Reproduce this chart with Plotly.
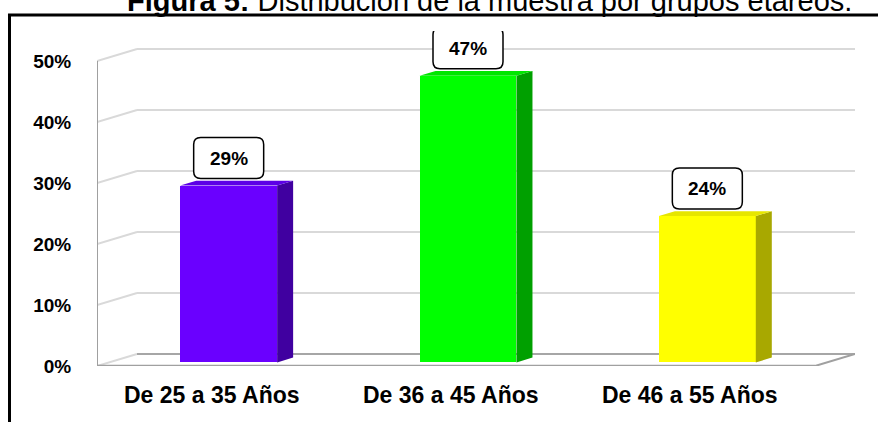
import plotly.graph_objects as go

# ---- data ----
categories = ["De 25 a 35 Años", "De 36 a 45 Años", "De 46 a 55 Años"]
values = [29, 47, 24]
value_labels = ["29%", "47%", "24%"]
tick_values = [0, 10, 20, 30, 40, 50]
tick_labels = ["0%", "10%", "20%", "30%", "40%", "50%"]
front_colors = ["#6a00ff", "#00ff00", "#ffff00"]
side_colors = ["#4000a0", "#00a000", "#a8a800"]
top_colors = ["#5c00e6", "#00e600", "#e6e600"]
title_text = "<b>Figura 5:</b> Distribución de la muestra por grupos etáreos."

# ---- geometry (pseudo 3D) ----
W, H = 878, 422
ML, MR, MT, MB = 97, 23, 31, 56
DX = 40 / 239.3      # wall depth in x data units
DY = 12 / 6.1        # wall depth in y data units
BAR_W = 0.405
D0, D1 = 0.3, 0.7    # bar depth fractions
XMIN, XMAX = -0.5, len(categories) - 0.5 + DX
YMAX = (H - MT - MB) / 6.1

FONT = "Liberation Sans, Arial, sans-serif"

fig = go.Figure()
shapes = []

# back wall gridlines + side wall diagonals
for v in tick_values:
    col = "#a6a6a6" if v == 0 else "#d9d9d9"
    shapes.append(dict(type="line", xref="x", yref="y", layer="below",
                       x0=XMIN, y0=v, x1=XMIN + DX, y1=v + DY,
                       line=dict(color="#d9d9d9", width=2)))
    shapes.append(dict(type="line", xref="x", yref="y", layer="below",
                       x0=XMIN + DX, y0=v + DY, x1=XMAX, y1=v + DY,
                       line=dict(color=col, width=2)))
# floor front edge and right diagonal
floor_right = len(categories) - 0.5
shapes.append(dict(type="line", xref="x", yref="y", layer="below",
                   x0=XMIN, y0=0, x1=floor_right, y1=0,
                   line=dict(color="#a0a0a0", width=2.5)))
shapes.append(dict(type="line", xref="x", yref="y", layer="below",
                   x0=floor_right, y0=0, x1=XMAX, y1=DY,
                   line=dict(color="#a0a0a0", width=2)))
# vertical front axis line
shapes.append(dict(type="line", xref="x", yref="y", layer="below",
                   x0=XMIN, y0=0, x1=XMIN, y1=tick_values[-1],
                   line=dict(color="#a0a0a0", width=2)))

# bars
bar_x = [i + D0 * DX for i in range(len(categories))]
base0 = D0 * DY
fig.add_trace(go.Bar(x=bar_x, y=values, base=base0, width=BAR_W,
                     marker=dict(color=front_colors, line=dict(width=0)),
                     hoverinfo="skip", showlegend=False))

ddx = (D1 - D0) * DX
ddy = (D1 - D0) * DY
for i, v in enumerate(values):
    xl = bar_x[i] - BAR_W / 2
    xr = bar_x[i] + BAR_W / 2
    top = base0 + v
    # side face
    fig.add_trace(go.Scatter(
        x=[xr, xr + ddx, xr + ddx, xr, xr],
        y=[base0, base0 + ddy, top + ddy, top, base0],
        fill="toself", fillcolor=side_colors[i], mode="lines",
        line=dict(width=0, color=side_colors[i]),
        hoverinfo="skip", showlegend=False))
    # top face
    fig.add_trace(go.Scatter(
        x=[xl, xl + ddx, xr + ddx, xr, xl],
        y=[top, top + ddy, top + ddy, top, top],
        fill="toself", fillcolor=top_colors[i], mode="lines",
        line=dict(width=0, color=top_colors[i]),
        hoverinfo="skip", showlegend=False))

annotations = []
# value label boxes
bw, bh, gap, r = 70, 41, 7, 7
for i, v in enumerate(values):
    x0, x1 = -bw / 2, bw / 2
    y0, y1 = gap, gap + bh
    path = (f"M{x0 + r},{y0} L{x1 - r},{y0} Q{x1},{y0} {x1},{y0 + r} "
            f"L{x1},{y1 - r} Q{x1},{y1} {x1 - r},{y1} L{x0 + r},{y1} "
            f"Q{x0},{y1} {x0},{y1 - r} L{x0},{y0 + r} Q{x0},{y0} {x0 + r},{y0} Z")
    shapes.append(dict(type="path", xref="x", yref="y",
                       xsizemode="pixel", ysizemode="pixel",
                       xanchor=bar_x[i], yanchor=base0 + v,
                       path=path, fillcolor="white",
                       line=dict(color="black", width=1.5), layer="above"))
    annotations.append(dict(x=bar_x[i], y=base0 + v, xref="x", yref="y",
                            text=f"<b>{value_labels[i]}</b>", showarrow=False,
                            yanchor="middle", yshift=gap + bh / 2,
                            font=dict(family=FONT, size=19, color="black")))

# category labels
for i, c in enumerate(categories):
    annotations.append(dict(x=i, y=0, xref="x", yref="y", text=f"<b>{c}</b>",
                            showarrow=False, yanchor="middle", yshift=-29,
                            xshift=-5,
                            font=dict(family=FONT, size=23, color="black")))

# title (cropped at the top, as in the reference)
annotations.append(dict(x=(489 - ML) / (W - ML - MR), y=1, xref="paper",
                        yref="paper", text=title_text, showarrow=False,
                        xanchor="center", yanchor="bottom", yshift=12,
                        font=dict(family=FONT, size=29, color="black")))

# frame lines
px_w = W - ML - MR
px_h = H - MT - MB
fx = (9.5 - ML) / px_w
fy = (H - MB - 15) / px_h
shapes.append(dict(type="line", xref="paper", yref="paper",
                   x0=fx, y0=fy, x1=fx, y1=-MB / px_h - 0.01,
                   line=dict(color="black", width=3)))
shapes.append(dict(type="line", xref="paper", yref="paper",
                   x0=fx - 0.002, y0=fy, x1=1 + MR / px_w + 0.01, y1=fy,
                   line=dict(color="black", width=3)))

fig.update_layout(
    width=W, height=H,
    margin=dict(l=ML, r=MR, t=MT, b=MB, pad=0),
    paper_bgcolor="white", plot_bgcolor="white",
    bargap=0,
    xaxis=dict(range=[XMIN, XMAX], showgrid=False, zeroline=False,
               showticklabels=False, showline=False, fixedrange=True),
    yaxis=dict(range=[0, YMAX], showgrid=False, zeroline=False,
               showline=False, tickmode="array", tickvals=tick_values,
               ticktext=tick_labels,
               ticks="outside", ticklen=21, tickcolor="rgba(0,0,0,0)",
               tickfont=dict(family=FONT, size=19, color="black", weight="bold"),
               fixedrange=True),
    shapes=shapes,
    annotations=annotations,
    showlegend=False,
)

fig.write_html("out.html", config={"displayModeBar": False},
               post_script="document.body.style.margin='0';document.body.style.overflow='hidden';")
